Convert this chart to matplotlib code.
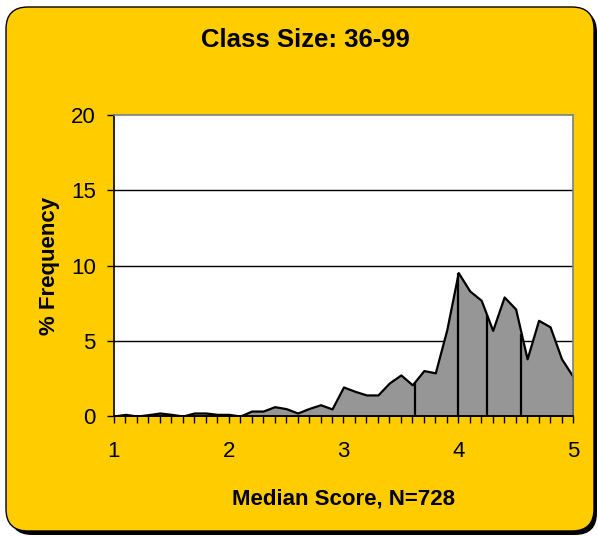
import numpy as np
import matplotlib
matplotlib.use("Agg")
import matplotlib.pyplot as plt
from matplotlib.patches import FancyBboxPatch
from matplotlib.transforms import IdentityTransform

plt.rcParams['font.family'] = ['Liberation Sans', 'DejaVu Sans']

title = 'Class Size: 36-99'
xlabel = 'Median Score, N=728'
ylabel = '% Frequency'

scores = [1.0, 1.1, 1.2, 1.3, 1.4, 1.5, 1.6, 1.7, 1.8, 1.9,
          2.0, 2.1, 2.2, 2.3, 2.4, 2.5, 2.6, 2.7, 2.8, 2.9,
          3.0, 3.1, 3.2, 3.3, 3.4, 3.5, 3.6, 3.7, 3.8, 3.9,
          4.0, 4.1, 4.2, 4.3, 4.4, 4.5, 4.6, 4.7, 4.8, 4.9, 5.0]
freq = [0.0, 0.11, 0.0, 0.09, 0.2, 0.11, 0.0, 0.2, 0.2, 0.11,
        0.11, 0.0, 0.33, 0.33, 0.62, 0.49, 0.2, 0.5, 0.75, 0.47,
        1.93, 1.64, 1.4, 1.4, 2.2, 2.73, 2.07, 3.02, 2.87, 5.73,
        9.53, 8.31, 7.69, 5.69, 7.91, 7.11, 3.8, 6.36, 5.93, 3.8, 2.62]
split_at = [3.62, 4.0, 4.25, 4.55]

yticks = [0, 5, 10, 15, 20]
xticks = [1, 2, 3, 4, 5]

fig = plt.figure(figsize=(5.98, 5.37), dpi=100)
fig.patch.set_facecolor('white')

# rounded yellow panel with drop shadow (pixel coords)
shadow = FancyBboxPatch((10, 2), 587, 525, boxstyle='round,pad=0,rounding_size=22',
                        transform=IdentityTransform(), facecolor='black',
                        edgecolor='none', zorder=-3)
panel = FancyBboxPatch((6, 6), 588, 524, boxstyle='round,pad=0,rounding_size=22',
                       transform=IdentityTransform(), facecolor='#FFCC00',
                       edgecolor='black', linewidth=1, zorder=-2)
fig.patches.append(shadow)
fig.patches.append(panel)

ax = fig.add_axes([0.1906, 0.2253, 0.7676, 0.5605])
ax.set_facecolor('white')

for y in yticks[1:-1]:
    ax.axhline(y, color='black', linewidth=1, zorder=1)

ax.fill_between(scores, freq, 0, facecolor='#969696', edgecolor='black',
                linewidth=1.6, zorder=2)
heights = np.interp(split_at, scores, freq)
ax.vlines(split_at, 0, heights, color='black', linewidth=1.6, zorder=3)

ax.set_xlim(1, 5)
ax.set_ylim(0, 20)
ax.set_xticks(xticks)
ax.set_xticks(scores, minor=True)
ax.set_yticks(yticks)
ax.tick_params(axis='x', which='both', direction='out', length=5, width=1,
               pad=13, labelsize=16)
ax.tick_params(axis='y', direction='out', length=5, width=1, pad=8, labelsize=16)

ax.spines['left'].set_color('black')
ax.spines['bottom'].set_color('black')
ax.spines['top'].set_color('#808080')
ax.spines['right'].set_color('#808080')
for s in ax.spines.values():
    s.set_linewidth(1.2)
    s.set_zorder(4)

ax.set_xlabel(xlabel, fontsize=16, fontweight='bold', labelpad=19)
ax.set_ylabel(ylabel, fontsize=16, fontweight='bold', labelpad=8)
fig.text(0.51, 0.925, title, ha='center', va='center', fontsize=18.5,
         fontweight='bold')

fig.savefig('out.png', dpi=100)
